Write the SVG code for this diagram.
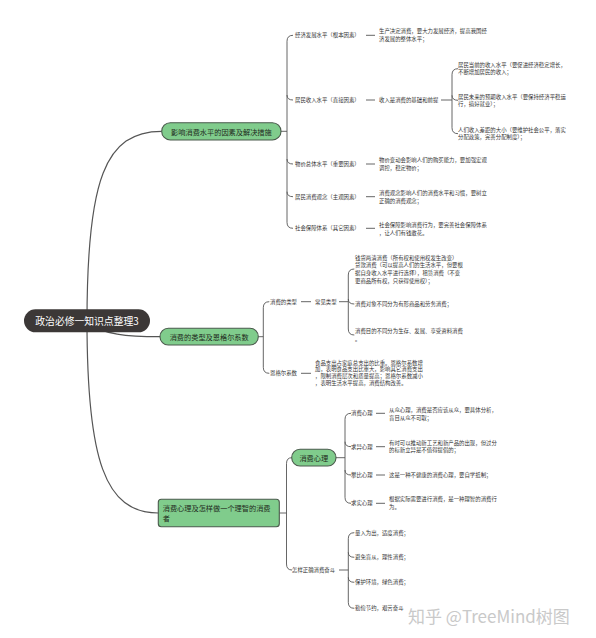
<svg xmlns="http://www.w3.org/2000/svg" width="596" height="638" viewBox="0 0 596 638">
<style>
text{font-family:"Noto Sans CJK SC","Noto Sans",sans-serif;dominant-baseline:central;fill:#333}
.s{font-size:5.4px}
.b{font-size:7.2px;fill:#1f2a20}
.root{font-size:9.8px;fill:#fff;text-anchor:middle}
.pill{fill:#80cc8c;stroke:#4a5a4c;stroke-width:1.1}
.ln{fill:none;stroke:#555;stroke-width:0.9}
.main{fill:none;stroke:#555;stroke-width:1.2}
.wm{font-size:17px;fill:#c9c9c9;font-family:"Noto Sans CJK SC","Noto Sans",sans-serif}
</style>
<rect width="596" height="638" fill="#fff"/>
<g id="connectors">
<path class="main" d="M87 321 C87 180 105 131.3 161.7 131.3"/>
<path class="main" d="M87 321 C100 335 130 336.7 160 336.7"/>
<path class="main" d="M87 321 C87 460 105 513 158.3 513"/>
<!-- branch1 -->
<path class="ln" d="M281 131.3 H287"/>
<path class="ln" d="M293 35.3 Q287 35.3 287 41.3 L287 222.3 Q287 228.3 293 228.3"/>
<path class="ln" d="M287 95 Q287 100 293 100 M287 159 Q287 164 293 164 M287 191.7 Q287 196.7 293 196.7"/>
<path class="ln" d="M366 35.3 H375 M366 100 H375 M366 164 H375 M366 196.7 H375 M366 228.3 H375"/>
<path class="ln" d="M441 100 H452"/>
<path class="ln" d="M458 68.7 Q452 68.7 452 74.7 L452 127.7 Q452 133.7 458 133.7 M452 95.3 Q452 100.3 458 100.3"/>
<!-- branch2 -->
<path class="ln" d="M258.3 336.7 H263.3"/>
<path class="ln" d="M269.3 301.7 Q263.3 301.7 263.3 307.7 L263.3 367.3 Q263.3 373.3 269.3 373.3"/>
<path class="ln" d="M301 301.7 H311 M339 301.7 H348.3 M301 373.3 H311"/>
<path class="ln" d="M354.3 269 Q348.3 269 348.3 275 L348.3 329 Q348.3 335 354.3 335 M348.3 299 Q348.3 304 354.3 304"/>
<!-- branch3 -->
<path class="ln" d="M279.3 513 H286.5"/>
<path class="ln" d="M291.7 457.7 Q286.5 457.7 286.5 463.7 L286.5 564 Q286.5 570 292 570"/>
<path class="ln" d="M336 457.7 H345"/>
<path class="ln" d="M351 413.3 Q345 413.3 345 419.3 L345 497.3 Q345 503.3 351 503.3 M345 441.7 Q345 446.7 351 446.7 M345 470 Q345 475 351 475"/>
<path class="ln" d="M376 413.3 H385 M376 446.7 H385 M376 475 H385 M376 503.3 H385"/>
<path class="ln" d="M339 570 H348.3"/>
<path class="ln" d="M354.3 532.7 Q348.3 532.7 348.3 538.7 L348.3 602.3 Q348.3 608.3 354.3 608.3 M348.3 552.3 Q348.3 557.3 354.3 557.3 M348.3 577.3 Q348.3 582.3 354.3 582.3"/>
</g>
<g id="root">
<rect x="24" y="309.3" width="126" height="23" rx="11.5" fill="#3c3837"/>
<text class="root" x="87" y="321">政治必修一知识点整理3</text>
</g>
<g id="branch1">
<rect class="pill" x="161.7" y="122.7" width="119.3" height="17.3" rx="8.6"/>
<text class="b" x="221.4" y="131.5" text-anchor="middle">影响消费水平的因素及解决措施</text>
</g>
<g id="b1-children">
<text class="s" x="295" y="35.3">经济发展水平（根本因素）</text>
<text class="s" x="379" y="31">生产决定消费，要大力发展经济，提高我国经</text>
<text class="s" x="379" y="38.7">济发展的整体水平；</text>
<text class="s" x="295" y="100">居民收入水平（直接因素）</text>
<text class="s" x="379" y="100">收入是消费的基础和前提</text>
<text class="s" x="458" y="65">居民当前的收入水平（要促进经济稳定增长，</text>
<text class="s" x="458" y="72.3">不断增加居民的收入；</text>
<text class="s" x="458" y="96.7">居民未来的预期收入水平（要保持经济平稳运</text>
<text class="s" x="458" y="104">行，搞好就业）；</text>
<text class="s" x="458" y="130">人们收入差距的大小（要维护社会公平，落实</text>
<text class="s" x="458" y="137.3">分配政策，完善分配制度）；</text>
<text class="s" x="295" y="164">物价总体水平（重要因素）</text>
<text class="s" x="379" y="160">物价变动会影响人们的购买能力，要加强宏观</text>
<text class="s" x="379" y="168">调控，稳定物价；</text>
<text class="s" x="295" y="196.7">居民消费观念（主观因素）</text>
<text class="s" x="379" y="192.7">消费观念影响人们的消费水平和习惯，要树立</text>
<text class="s" x="379" y="201">正确的消费观念；</text>
<text class="s" x="295" y="228.3">社会保障体系（其它因素）</text>
<text class="s" x="379" y="225">社会保障影响消费行为，要完善社会保障体系</text>
<text class="s" x="379" y="233">，让人们有钱敢花。</text>
</g>
<g id="branch2">
<rect class="pill" x="160" y="328.3" width="98.3" height="16.7" rx="8.3"/>
<text class="b" x="209.2" y="336.8" text-anchor="middle">消费的类型及恩格尔系数</text>
</g>
<g id="b2-children">
<text class="s" x="270" y="301.7">消费的类型</text>
<text class="s" x="315" y="301.7">常见类型</text>
<text class="s" x="355" y="257.5">钱货两清消费（所有权和使用权发生改变）</text>
<text class="s" x="355" y="265.3">贷款消费（可以提高人们的生活水平，但要根</text>
<text class="s" x="355" y="273.1">据自身收入水平进行选择），租赁消费（不变</text>
<text class="s" x="355" y="280.9">更商品所有权，只获得使用权）；</text>
<text class="s" x="355" y="304">消费对象不同分为有形商品和劳务消费；</text>
<text class="s" x="355" y="330.7">消费目的不同分为生存、发展、享受资料消费</text>
<text class="s" x="355" y="339">。</text>
<text class="s" x="270" y="373.3">恩格尔系数</text>
<text class="s" x="315" y="362.7">食品支出占家庭总支出的比重。恩格尔系数增</text>
<text class="s" x="315" y="369.3">加，表明食品支出比重大，影响其它消费支出</text>
<text class="s" x="315" y="375.9">，限制消费层次和质量提高；恩格尔系数减小</text>
<text class="s" x="315" y="382.5">，表明生活水平提高，消费结构改善。</text>
</g>
<g id="branch3">
<rect class="pill" x="158.3" y="499.3" width="121" height="27.4" rx="3"/>
<text class="b" x="162.7" y="507.7">消费心理及怎样做一个理智的消费</text>
<text class="b" x="162.7" y="518.3">者</text>
</g>
<g id="b3-psych">
<rect class="pill" x="291.7" y="449.3" width="44.3" height="16.7" rx="8.3"/>
<text class="b" x="313.8" y="457.8" text-anchor="middle">消费心理</text>
</g>
<g id="b3-children">
<text class="s" x="351" y="413.3">消费心理</text>
<text class="s" x="389" y="410">从众心理，消费是否应该从众，要具体分析，</text>
<text class="s" x="389" y="417.7">盲目从众不可取；</text>
<text class="s" x="351" y="446.7">求异心理</text>
<text class="s" x="389" y="442.7">有时可以推动新工艺和新产品的出现，但过分</text>
<text class="s" x="389" y="450">的标新立异是不值得提倡的；</text>
<text class="s" x="351" y="475">攀比心理</text>
<text class="s" x="389" y="475">这是一种不健康的消费心理，要自学抵制；</text>
<text class="s" x="351" y="503.3">求实心理</text>
<text class="s" x="389" y="499">根据实际需要进行消费，是一种理智的消费行</text>
<text class="s" x="389" y="507.3">为。</text>
<text class="s" x="292" y="570">怎样正确消费奋斗</text>
<text class="s" x="355" y="532.7">量入为出，适度消费；</text>
<text class="s" x="355" y="557.3">避免盲从，理性消费；</text>
<text class="s" x="355" y="582.3">保护环境，绿色消费；</text>
<text class="s" x="355" y="608.3">勤俭节约，艰苦奋斗</text>
</g>
<text class="wm" x="408" y="615">知乎 @TreeMind树图</text>
</svg>
